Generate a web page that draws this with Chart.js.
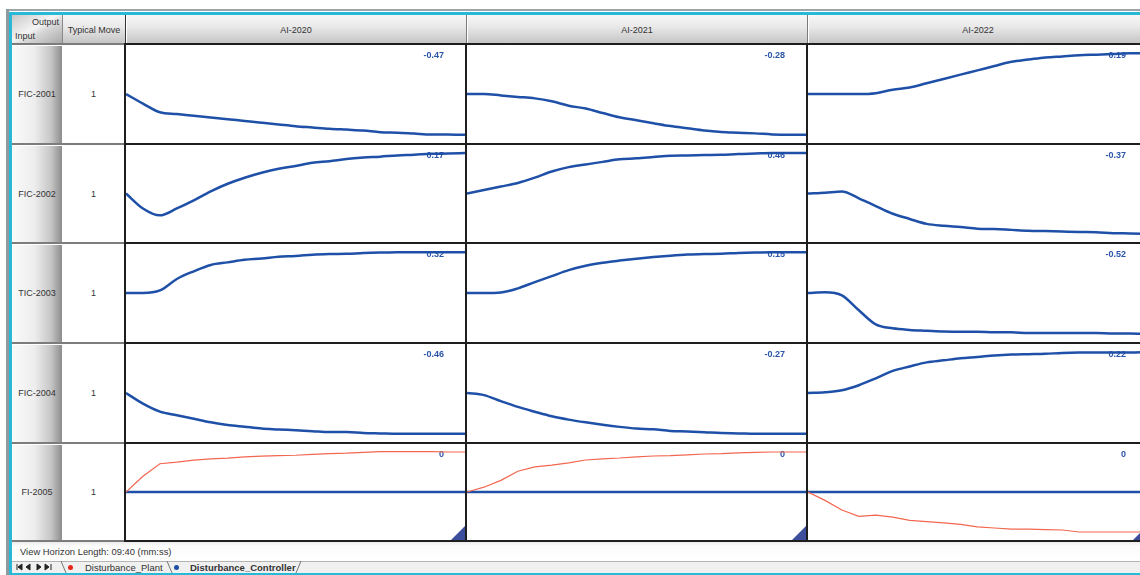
<!DOCTYPE html>
<html>
<head>
<meta charset="utf-8">
<title>Disturbance_Controller</title>
<script src="https://cdn.jsdelivr.net/npm/chart.js@4.4.1/dist/chart.umd.min.js"></script>
<style>
  body { margin: 0; width: 1140px; height: 575px; overflow: hidden; position: relative; background: #fff;
         font-family: "Liberation Sans", Arial, sans-serif; color: #333; }
  .abs { position: absolute; box-sizing: border-box; }
  .hdr { background: linear-gradient(#f7f7f7, #e9e9e9 40%, #c3c3c3); font-size: 9px;
         display: flex; align-items: center; justify-content: center; }
  .corner { background: linear-gradient(to bottom right, #c8c8c8, #f4f4f4 45%, #d6d6d6 60%, #a8a8a8); font-size: 9px; }
  .rowhdr { background: linear-gradient(to right, #fafafa, #ededed 45%, #c6c6c6 78%, #8c8c8c); font-size: 9px;
            display: flex; align-items: center; justify-content: center; }
  .move { background: #fff; font-size: 9px; display: flex; align-items: center; justify-content: center; }
  canvas { position: absolute; }
  .tab { position: absolute; top: 563px; font-size: 9.5px; line-height: 10px; white-space: nowrap; }
</style>
</head>
<body>
<script>
// inputs (rows) and outputs (columns) of the model matrix
const inputs = ["FIC-2001", "FIC-2002", "TIC-2003", "FIC-2004", "FI-2005"];
const outputs = ["AI-2020", "AI-2021", "AI-2022"];
const typicalMove = [1, 1, 1, 1, 1];

// steady state gains shown in each cell
const gains = [
  [-0.47, -0.28, 0.19],
  [0.17, 0.46, -0.37],
  [0.32, 0.15, -0.52],
  [-0.46, -0.27, 0.22],
  [0, 0, 0]
];

// time axis, 09:40 horizon
const timeSec = [0, 29, 58, 87, 116, 145, 174, 203, 232, 261, 290, 319, 348, 377, 406, 435, 464, 493, 522, 551, 580];

// controller model step responses
const fic2001_ai2020 = [0, -0.11, -0.21, -0.23, -0.25, -0.27, -0.29, -0.31, -0.33, -0.35, -0.37, -0.385, -0.40, -0.41, -0.42, -0.44, -0.445, -0.455, -0.465, -0.465, -0.47];
const fic2001_ai2021 = [0, 0, -0.01, -0.02, -0.03, -0.05, -0.08, -0.10, -0.13, -0.16, -0.18, -0.20, -0.22, -0.235, -0.25, -0.26, -0.265, -0.27, -0.277, -0.28, -0.28];
const fic2001_ai2022 = [0, 0, 0, 0, 0.004, 0.02, 0.03, 0.05, 0.07, 0.09, 0.11, 0.13, 0.15, 0.16, 0.17, 0.175, 0.18, 0.183, 0.186, 0.19, 0.19];
const fic2002_ai2020 = [0, -0.063, -0.092, -0.063, -0.029, 0.009, 0.041, 0.066, 0.087, 0.104, 0.116, 0.129, 0.136, 0.145, 0.151, 0.155, 0.16, 0.163, 0.167, 0.168, 0.17];
const fic2002_ai2021 = [0, 0.04, 0.08, 0.12, 0.18, 0.25, 0.30, 0.33, 0.36, 0.39, 0.40, 0.415, 0.43, 0.433, 0.437, 0.44, 0.45, 0.455, 0.46, 0.46, 0.46];
const fic2002_ai2022 = [0, 0.007, 0.018, -0.044, -0.115, -0.185, -0.233, -0.278, -0.296, -0.307, -0.322, -0.326, -0.333, -0.34, -0.344, -0.348, -0.352, -0.355, -0.363, -0.366, -0.37];
const tic2003_ai2020 = [0, 0, 0.02, 0.11, 0.17, 0.22, 0.24, 0.26, 0.27, 0.285, 0.29, 0.30, 0.305, 0.307, 0.313, 0.317, 0.32, 0.32, 0.32, 0.32, 0.32];
const tic2003_ai2021 = [0, 0, 0.002, 0.017, 0.04, 0.062, 0.084, 0.10, 0.111, 0.119, 0.126, 0.132, 0.137, 0.141, 0.143, 0.144, 0.147, 0.149, 0.15, 0.15, 0.15];
const tic2003_ai2022 = [0, 0.01, -0.03, -0.22, -0.40, -0.45, -0.47, -0.48, -0.49, -0.494, -0.494, -0.50, -0.50, -0.51, -0.51, -0.51, -0.51, -0.51, -0.515, -0.515, -0.52];
const fic2004_ai2020 = [0, -0.12, -0.21, -0.25, -0.29, -0.33, -0.36, -0.38, -0.40, -0.41, -0.42, -0.43, -0.44, -0.44, -0.45, -0.455, -0.46, -0.46, -0.46, -0.46, -0.46];
const fic2004_ai2021 = [0, -0.014, -0.054, -0.092, -0.124, -0.154, -0.176, -0.194, -0.21, -0.224, -0.235, -0.24, -0.251, -0.254, -0.259, -0.265, -0.267, -0.27, -0.27, -0.27, -0.27];
const fic2004_ai2022 = [0, 0.004, 0.015, 0.042, 0.079, 0.119, 0.143, 0.165, 0.176, 0.187, 0.194, 0.202, 0.207, 0.209, 0.211, 0.216, 0.218, 0.218, 0.218, 0.218, 0.22];
const fi2005_zero = [0, 0, 0, 0, 0, 0, 0, 0, 0, 0, 0, 0, 0, 0, 0, 0, 0, 0, 0, 0, 0];

// plant responses for the disturbance input
const fi2005_ai2020_plant = [0, 0.39, 0.70, 0.74, 0.79, 0.82, 0.84, 0.87, 0.89, 0.90, 0.91, 0.93, 0.95, 0.96, 0.98, 1.0, 1.0, 1.0, 1.0, 0.99, 0.99];
const fi2005_ai2021_plant = [0, 0.12, 0.29, 0.52, 0.63, 0.67, 0.73, 0.80, 0.83, 0.85, 0.88, 0.90, 0.91, 0.93, 0.95, 0.96, 0.98, 0.99, 1.0, 1.0, 1.0];
const fi2005_ai2022_plant = [0, -0.21, -0.45, -0.61, -0.58, -0.63, -0.71, -0.74, -0.77, -0.81, -0.87, -0.90, -0.93, -0.93, -0.94, -0.95, -1.0, -1.0, -1.0, -1.0, -1.0];

const controllerModel = [
  [fic2001_ai2020, fic2001_ai2021, fic2001_ai2022],
  [fic2002_ai2020, fic2002_ai2021, fic2002_ai2022],
  [tic2003_ai2020, tic2003_ai2021, tic2003_ai2022],
  [fic2004_ai2020, fic2004_ai2021, fic2004_ai2022],
  [fi2005_zero, fi2005_zero, fi2005_zero]
];
const plantModel = [null, null, null, null, [fi2005_ai2020_plant, fi2005_ai2021_plant, fi2005_ai2022_plant]];

// grid geometry
const colX = [125, 466, 807, 1148];
const rowY = [44, 144, 243, 343, 443, 541];
const BLUE = "#1f50a8";
const RED = "#f2674f";

function box(cls, x, y, w, h, style, html) {
  const d = document.createElement("div");
  d.className = "abs " + (cls || "");
  d.style.left = x + "px";
  d.style.top = y + "px";
  d.style.width = w + "px";
  d.style.height = h + "px";
  if (style) Object.assign(d.style, style);
  if (html !== undefined) d.innerHTML = html;
  document.body.append(d);
  return d;
}

// window frame
box("", 6, 9, 1134, 2, { background: "#9ca5a8" });
box("", 9, 12, 1131, 3, { background: "#27b9d6" });
box("", 6, 9, 3, 566, { background: "#8f9a9e" });
box("", 9, 12, 3, 563, { background: "#27b9d6" });

// header row
const corner = box("corner", 12, 15, 50, 29);
corner.innerHTML = '<span style="position:absolute;right:3px;top:2px">Output</span>' +
  '<span style="position:absolute;left:3px;bottom:3px">Input</span>';
box("hdr", 62, 15, 63, 29, { borderLeft: "1px solid #8a8a8a" }, "Typical Move");
outputs.forEach((name, c) => {
  box("hdr", colX[c], 15, colX[c + 1] - colX[c], 29,
    { borderLeft: c === 0 ? "1px solid #333" : "1px solid #7a7a7a", boxShadow: "inset 1px 0 #fff" }, name);
});

// row headers and typical move column
inputs.forEach((name, r) => {
  const h = rowY[r + 1] - rowY[r];
  box("rowhdr", 12, rowY[r], 50, h, null, name);
  box("move", 62, rowY[r], 63, h, null, String(typicalMove[r]));
});

// grid lines
rowY.forEach((y, r) => {
  box("", 12, y - 1, 113, 2, { background: "#7c7c7c", borderBottom: r < 5 ? "1px solid #fff" : "none", height: "3px" });
  box("", 124, y - 1, 1024, 2, { background: "#1e1e1e" });
});
colX.slice(0, 3).forEach(x => {
  box("", x - 1, 44, 2, 498, { background: "#1e1e1e" });
});

// footer
box("", 12, 542, 1128, 19, { background: "linear-gradient(#ececec, #fbfbfb 20%, #fff)" },
  '<span style="position:absolute;left:8px;top:4px;font-size:9.4px">View Horizon Length: 09:40 (mm:ss)</span>');
box("", 12, 561, 1128, 12, { background: "#f0f0f0", borderTop: "1px solid #b4b4b4" });
box("", 9, 573, 1131, 2, { background: "#27b9d6" });

// sheet tabs
const tabs = document.createElement("div");
tabs.innerHTML =
  '<svg class="abs" style="left:0;top:561px" width="320" height="12">' +
  '<path d="M17 3v6M18 6l4-3v6zM26 6l4-3v6zM37 3v6l4-3zM45 3v6l4-3zM51 3v6" stroke="#222" fill="#222" stroke-width="1"/>' +
  '<path d="M61 0l5 12M167 0l5 12M301 0l-5 12" stroke="#777" fill="none" stroke-width="1"/>' +
  '<circle cx="70.5" cy="6.5" r="2.5" fill="#e8261c"/>' +
  '<circle cx="176.5" cy="6.5" r="2.5" fill="#1e4fa6"/></svg>' +
  '<span class="tab" style="left:85px">Disturbance_Plant</span>' +
  '<span class="tab" style="left:190px;font-weight:bold">Disturbance_Controller</span>';
document.body.append(tabs);

// gain label in the upper right corner and the marker triangle
const cellNote = {
  id: "cellNote",
  beforeDatasetsDraw(chart, args, opts) {
    const { ctx, chartArea } = chart;
    ctx.save();
    ctx.font = 'bold 9px "Liberation Sans", Arial, sans-serif';
    ctx.fillStyle = "#2a55a8";
    ctx.textAlign = "right";
    ctx.textBaseline = "middle";
    ctx.fillText(opts.text, chartArea.right - 21, chartArea.top + 11);
    ctx.restore();
  },
  afterDraw(chart, args, opts) {
    if (!opts.corner) return;
    const { ctx, chartArea: a } = chart;
    ctx.save();
    ctx.fillStyle = "#3c4e9c";
    ctx.beginPath();
    ctx.moveTo(a.right, a.bottom - 14);
    ctx.lineTo(a.right, a.bottom);
    ctx.lineTo(a.right - 14, a.bottom);
    ctx.closePath();
    ctx.fill();
    ctx.restore();
  }
};

function points(values) {
  return timeSec.map((t, i) => ({ x: t, y: values[i] }));
}

inputs.forEach((inp, r) => {
  outputs.forEach((out, c) => {
    const canvas = document.createElement("canvas");
    canvas.width = colX[c + 1] - colX[c] - 2;
    canvas.height = rowY[r + 1] - rowY[r] - 2;
    canvas.style.left = (colX[c] + 1) + "px";
    canvas.style.top = (rowY[r] + 1) + "px";
    document.body.append(canvas);

    const datasets = [];
    const plant = plantModel[r];
    if (plant) {
      datasets.push({ data: points(plant[c]), borderColor: RED, borderWidth: 1.2, tension: 0 });
    }
    datasets.push({ data: points(controllerModel[r][c]), borderColor: BLUE, borderWidth: 2.5, cubicInterpolationMode: "monotone" });

    const gain = gains[r][c];
    const ref = plant ? Math.abs(plant[c][plant[c].length - 1]) : Math.abs(gain);
    const span = ref * 1.2;

    new Chart(canvas, {
      type: "line",
      data: { datasets },
      options: {
        responsive: false,
        animation: false,
        devicePixelRatio: 1,
        layout: { padding: 0 },
        elements: { point: { radius: 0 } },
        plugins: {
          legend: { display: false },
          tooltip: { enabled: false },
          cellNote: { text: gain === 0 ? "0" : gain.toFixed(2), corner: r === 4 }
        },
        scales: {
          x: { type: "linear", min: 0, max: 580, display: false },
          y: { min: -span, max: span, display: false }
        }
      },
      plugins: [cellNote]
    });
  });
});
</script>
</body>
</html>
